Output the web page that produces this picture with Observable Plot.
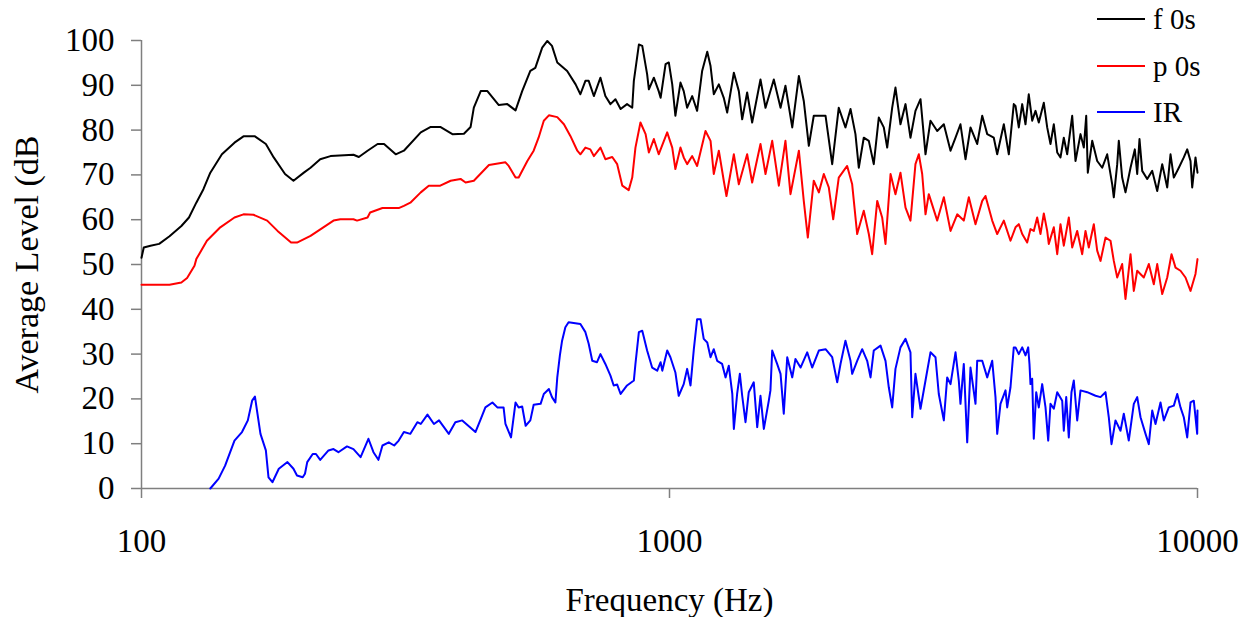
<!DOCTYPE html>
<html><head><meta charset="utf-8">
<script src="https://cdn.jsdelivr.net/npm/d3@7"></script>
<script src="https://cdn.jsdelivr.net/npm/@observablehq/plot@0.6"></script>
<style>
html,body{margin:0;padding:0;background:#fff;}
#wrap{position:relative;width:1253px;height:617px;font-family:"Liberation Serif","Times New Roman",serif;}
#wrap svg, #wrap svg text{font-family:"Liberation Serif","Times New Roman",serif !important;}
#legend{position:absolute;left:1097px;top:0;width:150px;height:140px;}
.row{position:absolute;left:0;height:30px;display:flex;align-items:center;white-space:nowrap;font-size:29px;color:#000;}
.row .sw{display:inline-block;width:48px;height:2px;margin-right:8px;}
</style></head><body><div id="wrap"></div>
<script>
const seriesNames = ["f 0s", "p 0s", "IR"];
const seriesColors = ["#000000", "#ff0000", "#0000ff"];
const xTicks = [100, 1000, 10000];
const yTicks = [0, 10, 20, 30, 40, 50, 60, 70, 80, 90, 100];
const xLabel = "Frequency (Hz)";
const yLabel = "Average Level (dB";

const fFreq = [100,101,104,108,113,119,123,127,131,135,142,150,156,164,172,178,187,194,203,209,218,228,252,258,268,280,288,303,314,338,353,368,388,408,420,426,439,452,475,493,511,526,545,557,574,587,599,613,640,664,678,693,703,719,740,756,773,790,808,831,850,856,875,888,907,914,934,954,962,983,997,1012,1026,1049,1064,1080,1104,1128,1153,1179,1196,1213,1240,1267,1286,1324,1353,1373,1403,1434,1487,1520,1576,1623,1658,1708,1758,1796,1836,1876,1975,2033,2092,2154,2202,2250,2283,2333,2385,2437,2491,2546,2584,2641,2679,2738,2799,2860,2923,2988,3054,3121,3214,3308,3406,3481,3557,3636,3716,3826,3911,3997,4113,4175,4297,4392,4488,4522,4587,4656,4723,4791,4863,4934,5005,5116,5192,5267,5344,5424,5502,5582,5665,5790,5874,6004,6091,6155,6198,6318,6457,6600,6745,6894,6942,7046,7095,7200,7305,7467,7608,7688,7765,7857,8031,8208,8389,8574,8763,8890,9019,9218,9420,9561,9700,9772,9913,10000];
const fLevel = [51.5,53.8,54.2,54.6,56.3,58.6,60.5,63.8,66.8,70.5,74.6,77.2,78.6,78.6,76.9,73.9,70.2,68.7,70.5,71.6,73.5,74.2,74.5,74.0,75.4,76.9,76.9,74.6,75.4,79.5,80.7,80.7,79.1,79.2,80.7,85.0,88.7,88.7,85.6,85.8,84.4,88.7,93.2,93.9,98.4,99.9,98.8,95.1,93.2,90.2,88.0,91.0,91.0,87.6,91.7,87.6,85.8,86.9,84.7,85.8,85.0,91.0,99.1,98.8,92.5,89.1,91.7,88.7,87.2,94.7,95.1,90.2,83.2,90.6,88.7,85.0,87.6,84.3,93.2,97.5,94.3,88.0,90.2,87.2,83.9,92.8,88.7,82.4,88.4,81.7,91.3,85.0,91.3,85.0,89.9,80.6,92.1,86.5,76.5,83.2,83.2,72.4,85.0,80.6,84.7,79.1,71.6,78.3,77.6,72.4,82.8,80.6,76.1,85.0,89.5,81.3,85.8,78.3,84.3,86.9,74.6,82.1,79.8,81.3,75.4,78.3,81.3,73.5,80.6,76.9,83.2,79.1,78.3,74.6,81.3,74.6,85.8,85.4,80.6,85.8,81.3,88.0,82.1,84.3,81.7,86.1,80.6,76.9,81.3,75.0,73.9,78.3,74.6,83.2,73.1,79.1,76.1,83.2,70.5,77.6,73.1,71.6,74.6,67.9,65.0,72.4,77.6,69.4,66.1,71.6,75.7,70.2,78.0,70.9,69.1,70.9,66.4,72.4,67.2,74.6,69.4,71.6,73.9,75.7,73.1,67.2,73.9,70.5];

const pFreq = [100,113,119,122,126,127,133,141,150,156,163,173,181,192,197,209,221,231,238,252,256,268,271,286,307,314,323,338,350,368,385,402,411,426,435,455,489,496,511,518,538,553,565,578,591,613,631,649,669,678,693,708,719,740,756,779,796,814,837,850,862,881,901,914,934,954,990,1012,1026,1049,1064,1080,1104,1128,1170,1196,1213,1240,1267,1282,1324,1353,1403,1434,1487,1520,1565,1611,1658,1695,1758,1796,1828,1876,1918,1960,2003,2042,2092,2170,2218,2267,2333,2385,2420,2474,2528,2565,2622,2679,2738,2799,2860,2923,2966,3010,3054,3098,3214,3308,3406,3507,3609,3689,3798,3911,3967,4085,4175,4297,4424,4522,4587,4656,4758,4827,4897,4970,5042,5116,5192,5228,5344,5424,5502,5582,5705,5790,5918,6048,6136,6225,6362,6457,6551,6695,6843,6942,7046,7200,7305,7467,7575,7688,7913,8087,8265,8389,8574,8763,8929,9086,9286,9490,9700,9913,10000];
const pLevel = [45.5,45.5,46.0,47.0,49.7,51.2,55.3,58.3,60.5,61.2,61.1,59.8,57.5,54.9,54.9,56.4,58.3,59.8,60.1,60.1,59.8,60.5,61.6,62.6,62.6,63.1,63.8,66.1,67.6,67.6,68.7,69.1,68.3,68.7,69.8,72.2,72.8,72.0,69.4,69.4,73.1,75.4,78.3,82.1,83.3,82.9,81.3,78.7,75.4,74.6,76.1,75.7,74.2,76.1,73.5,74.0,72.4,67.6,66.6,69.4,76.1,81.7,79.1,75.0,78.0,74.6,79.5,76.1,71.3,76.1,73.9,72.4,74.2,72.0,79.8,77.6,70.2,75.4,68.7,65.3,74.6,67.9,74.6,68.3,76.9,70.2,77.6,67.6,77.6,65.7,75.4,64.2,56.0,68.7,66.1,70.2,67.2,60.1,69.4,72.0,67.9,56.8,62.0,56.8,52.3,64.2,60.5,54.6,70.2,65.7,70.5,62.7,59.8,72.4,74.6,70.2,61.2,65.7,59.8,65.0,57.5,61.2,59.8,65.0,59.0,64.2,65.3,59.8,56.8,59.8,55.3,58.3,59.0,56.8,54.9,57.9,57.5,60.5,56.8,61.4,57.5,54.6,58.3,52.3,59.0,54.2,60.5,53.8,57.5,52.3,57.5,53.8,59.0,53.1,50.8,56.0,55.3,50.8,47.1,50.1,42.3,52.3,44.1,48.6,47.1,50.1,45.6,50.1,43.4,47.1,52.3,49.3,48.6,47.1,44.1,47.9,51.2];

const irFreq = [135,140,144,150,155,159,162,164,168,172,174,177,182,189,194,197,202,204,206,211,214,218,226,231,236,245,252,260,269,275,281,286,294,301,307,314,323,333,338,348,358,366,382,393,405,429,439,448,462,472,485,489,501,511,518,526,534,545,553,570,578,591,599,608,613,620,626,635,644,678,693,703,714,729,740,756,773,784,796,808,831,856,862,875,888,907,927,948,962,969,990,1004,1026,1041,1064,1080,1096,1112,1128,1145,1161,1179,1196,1213,1231,1258,1277,1295,1315,1324,1343,1359,1373,1393,1413,1444,1466,1487,1509,1542,1553,1565,1599,1623,1646,1671,1708,1732,1771,1823,1863,1918,1975,2033,2078,2108,2154,2202,2218,2267,2317,2368,2403,2437,2510,2565,2602,2641,2679,2738,2799,2860,2882,2923,2988,3054,3121,3190,3236,3308,3357,3406,3481,3531,3557,3609,3663,3716,3798,3826,3911,3997,4085,4144,4175,4235,4329,4361,4424,4488,4522,4587,4656,4723,4779,4806,4827,4863,4897,4949,5005,5080,5154,5215,5267,5344,5424,5543,5582,5641,5705,5772,5831,5918,6004,6182,6410,6551,6695,6792,6873,6993,7148,7251,7410,7575,7688,7800,7972,8087,8208,8327,8510,8634,8824,9019,9154,9286,9420,9561,9700,9840,9987,10000];
const irLevel = [0,2.2,5.1,10.7,12.6,15.2,19.6,20.5,12.2,8.5,2.5,1.4,4.4,5.9,4.4,2.9,2.5,3.3,5.9,7.7,7.7,6.4,8.5,8.8,8.1,9.4,8.8,7.0,11.1,8.1,6.4,9.6,10.3,9.6,10.7,12.6,12.2,14.8,14.4,16.5,14.4,15.2,12.2,14.8,15.2,12.6,15.5,18.1,19.2,18.1,18.1,14.4,11.4,19.2,18.1,18.3,14.0,15.2,18.7,18.9,21.1,22.2,20.4,19.2,24.8,29.7,33.0,36.0,37.1,36.7,34.9,32.3,28.5,28.2,30.0,27.8,25.2,23.0,23.2,21.1,23.0,24.1,27.8,34.9,35.2,30.8,27.0,26.3,28.2,26.3,30.8,29.3,25.9,20.7,23.3,26.7,23.0,31.1,37.8,37.8,33.4,32.6,29.3,31.1,28.5,27.8,24.8,27.4,21.1,13.3,21.1,25.6,20.7,14.8,21.5,23.7,13.7,20.7,13.3,19.6,21.9,30.8,27.8,25.6,16.7,29.3,24.8,28.9,27.0,30.4,27.0,30.8,31.1,29.3,23.7,27.8,33.0,28.5,25.6,28.5,31.1,28.5,24.8,30.8,31.9,28.5,22.6,18.1,26.7,31.5,33.4,30.4,15.9,25.6,17.8,24.1,30.4,29.3,21.1,15.2,24.8,23.3,30.4,24.1,18.9,27.8,10.3,27.0,18.9,28.5,28.5,24.8,28.5,20.4,12.2,18.9,21.9,18.1,22.6,31.5,31.5,30.0,31.5,29.7,31.5,27.8,23.3,24.5,11.1,21.5,18.1,23.3,18.1,10.7,18.9,17.8,21.5,19.6,12.9,20.4,11.4,21.5,24.1,15.2,21.9,21.5,20.7,20.4,21.5,15.9,9.9,15.2,12.9,16.7,10.7,18.9,20.4,15.9,12.2,9.9,17.4,14.4,19.2,15.2,18.1,18.5,21.1,18.1,15.9,11.4,19.2,19.6,12.2,17.4];

const table = [
  ...fFreq.map((f, i) => ({series: seriesNames[0], freq: f, level: fLevel[i]})),
  ...pFreq.map((f, i) => ({series: seriesNames[1], freq: f, level: pLevel[i]})),
  ...irFreq.map((f, i) => ({series: seriesNames[2], freq: f, level: irLevel[i]}))
];

const serif = "Liberation Serif";
const axisGray = "#7f7f7f";
const chart = Plot.plot({
  width: 1253, height: 617,
  marginLeft: 141, marginRight: 56, marginTop: 40, marginBottom: 129,
  style: {fontFamily: serif, fontSize: "33px", color: "#000", background: "#fff"},
  x: {type: "log", domain: [100, 10000]},
  y: {domain: [0, 100]},
  color: {domain: seriesNames, range: seriesColors},
  marks: [
    Plot.axisX({ticks: xTicks, tickFormat: d => String(d), tickSize: 10, tickPadding: 30, stroke: axisGray, strokeWidth: 1.5, fill: "#000", label: null, fontFamily: serif}),
    Plot.axisY({ticks: yTicks, tickSize: 10, tickPadding: 17, stroke: axisGray, strokeWidth: 1.5, fill: "#000", label: null, fontFamily: serif}),
    Plot.ruleX([100], {stroke: axisGray, strokeWidth: 1.5}),
    Plot.ruleY([0], {stroke: axisGray, strokeWidth: 1.5}),
    Plot.line(table, {x: "freq", y: "level", z: "series", stroke: "series", strokeWidth: 2, curve: "linear"}),
    Plot.text([yLabel], {text: d => d, frameAnchor: "left", textAnchor: "middle", lineAnchor: "middle", dx: -114, dy: 0, rotate: -90, fontSize: 34, fontFamily: serif, fill: "#000"}),
    Plot.text([xLabel], {text: d => d, frameAnchor: "bottom", textAnchor: "middle", lineAnchor: "middle", dy: 112, fontSize: 33, fontFamily: serif, fill: "#000"})
  ]
});

const wrap = document.getElementById("wrap");
wrap.appendChild(chart);
const legend = document.createElement("div");
legend.id = "legend";
const centers = [19, 66, 112];
seriesNames.forEach((name, i) => {
  const row = document.createElement("div");
  row.className = "row";
  row.style.top = (centers[i] - 15) + "px";
  const sw = document.createElement("span");
  sw.className = "sw";
  sw.style.background = seriesColors[i];
  const t = document.createElement("span");
  t.textContent = name;
  row.appendChild(sw);
  row.appendChild(t);
  legend.appendChild(row);
});
wrap.appendChild(legend);
</script>
</body></html>
